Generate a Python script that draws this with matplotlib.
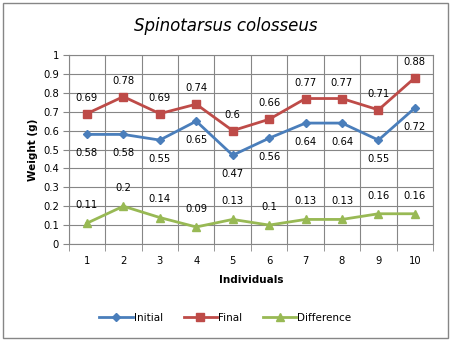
import matplotlib
matplotlib.use("Agg")
import matplotlib.pyplot as plt
import numpy as np

individuals = [1, 2, 3, 4, 5, 6, 7, 8, 9, 10]
initial = [0.58, 0.58, 0.55, 0.65, 0.47, 0.56, 0.64, 0.64, 0.55, 0.72]
final = [0.69, 0.78, 0.69, 0.74, 0.6, 0.66, 0.77, 0.77, 0.71, 0.88]
difference = [0.11, 0.2, 0.14, 0.09, 0.13, 0.1, 0.13, 0.13, 0.16, 0.16]

plt.rcParams['font.family'] = ['DejaVu Sans']

fig = plt.figure(figsize=(4.51, 3.41), dpi=100)
# outer chart border
fig.patches.append(plt.Rectangle((3/451, 3/341), 445/451, 335/341, transform=fig.transFigure,
                                 fill=False, edgecolor='#868686', lw=1))
ax = fig.add_axes([0.1523, 0.2845, 0.808, 0.554])

x = np.arange(len(individuals))
series = [
    (initial, 'Initial', '#4A7EBB', 'D', 4.5, -13.5),
    (final, 'Final', '#BE4B48', 's', 5.5, 11.5),
    (difference, 'Difference', '#98B954', '^', 6, 13),
]
for vals, name, col, mk, ms, off in series:
    ax.plot(x, vals, color=col, lw=2, marker=mk, markersize=ms, label=name)
    for xi, v in zip(x, vals):
        ax.annotate(f'{v:g}', (xi, v), xytext=(0, off), textcoords='offset points',
                    ha='center', va='center', fontsize=7.2)

ax.set_xlim(-0.5, len(individuals) - 0.5)
ax.set_ylim(0, 1)
ax.set_yticks(np.arange(0, 1.01, 0.1))
ax.set_yticklabels(['0'] + [f'{v:.1f}' for v in np.arange(0.1, 0.95, 0.1)] + ['1'], fontsize=7.2)
ax.set_xticks(x)
ax.set_xticklabels([str(i) for i in individuals], fontsize=7.2)
ax.tick_params(axis='x', length=0, pad=9)
ax.tick_params(axis='y', length=4, color='#868686', pad=3)
ax.set_xticks(np.arange(-0.5, len(individuals)), minor=True)
ax.tick_params(axis='x', which='minor', length=5, color='#868686')
ax.grid(True, which='major', axis='y', color='#868686', lw=0.8)
ax.grid(True, which='minor', axis='x', color='#868686', lw=0.8)
ax.set_axisbelow(True)
for s in ax.spines.values():
    s.set_color('#868686')

ax.set_xlabel('Individuals', fontsize=7.5, fontweight='bold', labelpad=6)
ax.set_ylabel('Weight (g)', fontsize=7.5, fontweight='bold', labelpad=4)
fig.text(0.5, 1 - 26/341, 'Spinotarsus colosseus', fontsize=12, style='italic',
         ha='center', va='center')

ax.legend(loc='center', bbox_to_anchor=(0.5, 23/341), bbox_transform=fig.transFigure,
          ncol=3, frameon=False, fontsize=7.5, handlelength=3.2, handletextpad=0.1,
          columnspacing=2)

fig.savefig('out.png', dpi=100)
